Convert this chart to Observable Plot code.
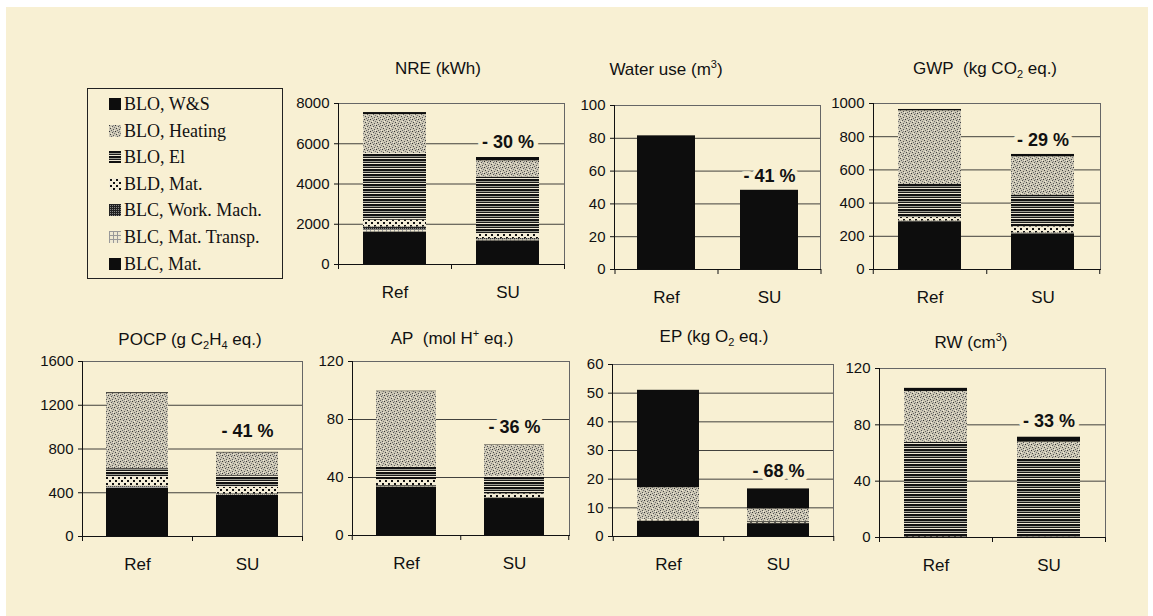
<!DOCTYPE html>
<html><head><meta charset="utf-8">
<script src="https://cdn.jsdelivr.net/npm/d3@7"></script>
<script src="https://cdn.jsdelivr.net/npm/@observablehq/plot@0.6"></script>
<style>
body{margin:0;background:#fff;}
#page{position:relative;width:1153px;height:616px;overflow:hidden;background:#fff;font-family:"Liberation Sans",Arial,sans-serif;color:#111;}
#bg{position:absolute;left:6px;top:7px;width:1142px;height:609px;background:#f8f0d3;}
.panel{position:absolute;}
.title{position:absolute;transform:translate(-50%,-50%);font-size:17px;white-space:nowrap;color:#111;line-height:20px;}
.title sub,.title sup{font-size:11px;line-height:0;}
#legend{position:absolute;left:87px;top:88px;width:196px;height:191px;border:1px solid #222;box-sizing:border-box;font-family:"Liberation Serif","Times New Roman",serif;font-size:18px;color:#111;}
.lg{position:absolute;left:21px;height:20px;line-height:20px;white-space:nowrap;display:flex;align-items:center;}
.lg svg{margin-right:3px;}
</style></head>
<body>
<svg width="0" height="0" style="position:absolute">
<defs>
<pattern id="pHeat" width="6" height="6" patternUnits="userSpaceOnUse">
<rect width="6" height="6" fill="#cbc6b4"/>
<rect x="0" y="0" width="1" height="1" fill="#333"/>
<rect x="3" y="1" width="1" height="1" fill="#555"/>
<rect x="1" y="3" width="1" height="1" fill="#444"/>
<rect x="4" y="4" width="1" height="1" fill="#555"/>
<rect x="5" y="2" width="1" height="1" fill="#777"/>
<rect x="2" y="5" width="1" height="1" fill="#666"/>
<rect x="4" y="0" width="1" height="1" fill="#888"/>
<rect x="2" y="2" width="1" height="1" fill="#f2ecd8"/>
<rect x="5" y="5" width="1" height="1" fill="#f2ecd8"/>
</pattern>
<pattern id="pEl" width="4" height="5" patternUnits="userSpaceOnUse">
<rect width="4" height="2" fill="#111"/>
<rect y="2" width="4" height="1" fill="#9a9a90"/>
<rect y="3" width="4" height="1" fill="#1a1a1a"/>
<rect y="4" width="4" height="1" fill="#eee8d5"/>
</pattern>
<pattern id="pBLD" width="6" height="6" patternUnits="userSpaceOnUse">
<rect width="6" height="6" fill="#f3ecd6"/>
<rect x="1" y="1" width="2" height="2" fill="#111"/>
<rect x="4" y="4" width="2" height="2" fill="#111"/>
</pattern>
<pattern id="pWork" width="2" height="2" patternUnits="userSpaceOnUse">
<rect width="2" height="2" fill="#222"/>
<rect x="1" y="1" width="1" height="1" fill="#888"/>
</pattern>
<pattern id="pTransp" width="4" height="4" patternUnits="userSpaceOnUse">
<rect width="4" height="4" fill="#eee8d2"/>
<rect width="1" height="4" fill="#999"/>
<rect width="4" height="1" fill="#999"/>
</pattern>
</defs>
</svg>
<div id="page"><div id="bg"></div><div id="legend"></div></div>
<script>
// ---- data ----
const scenarios = ["Ref", "SU"];
// stack order, bottom to top
const components = ["BLC, Mat.", "BLC, Mat. Transp.", "BLC, Work. Mach.", "BLD, Mat.", "BLO, El", "BLO, Heating", "BLO, W&S"];
const nreRef   = [1620, 100, 150, 330, 3315, 1935, 100];
const nreSU    = [1180, 50, 60, 250, 2815, 795, 166];
const waterRef = [0, 0, 0, 0, 0, 0, 81.5];
const waterSU  = [0, 0, 0, 0, 0, 0, 48.3];
const gwpRef   = [288, 2, 3, 20, 199, 444, 8];
const gwpSU    = [215, 3, 3, 36, 191, 231, 14];
const pocpRef  = [440, 10, 10, 80, 80, 687, 7];
const pocpSU   = [375, 5, 10, 60, 106, 208, 5];
const apRef    = [33.5, 0.5, 0.5, 4, 8.7, 52, 0.3];
const apSU     = [25.5, 0.3, 0.3, 2.6, 12, 21.4, 0.3];
const epRef    = [5.3, 0.1, 0.1, 0.3, 0.2, 11, 34];
const epSU     = [4.5, 0.1, 0.1, 0.3, 0.3, 4.3, 7];
const rwRef    = [0.5, 0, 0, 0.2, 67, 36, 2.2];
const rwSU     = [0.4, 0, 0, 0.1, 55.4, 11.8, 3.5];
const nreTicks = [0, 2000, 4000, 6000, 8000];
const waterTicks = [0, 20, 40, 60, 80, 100];
const gwpTicks = [0, 200, 400, 600, 800, 1000];
const pocpTicks = [0, 400, 800, 1200, 1600];
const apTicks = [0, 40, 80, 120];
const epTicks = [0, 10, 20, 30, 40, 50, 60];
const rwTicks = [0, 40, 80, 120];
const reductions = ["- 30 %", "- 41 %", "- 29 %", "- 41 %", "- 36 %", "- 68 %", "- 33 %"];

// ---- styles ----
const BG = "#f8f0d3";
const fills = {
  "BLC, Mat.": "#0d0d0d",
  "BLC, Mat. Transp.": "url(#pTransp)",
  "BLC, Work. Mach.": "url(#pWork)",
  "BLD, Mat.": "url(#pBLD)",
  "BLO, El": "url(#pEl)",
  "BLO, Heating": "url(#pHeat)",
  "BLO, W&S": "#0d0d0d"
};

const page = document.getElementById("page");

// legend
const legend = document.getElementById("legend");
components.slice().reverse().forEach((c, i) => {
  const d = document.createElement("div");
  d.className = "lg";
  d.style.top = (5 + i * 26.6) + "px";
  d.innerHTML = `<svg width="12" height="12"><rect width="12" height="12" fill="${fills[c]}"/></svg><span></span>`;
  d.querySelector("span").textContent = c;
  legend.appendChild(d);
});

const panels = [
  {title: "NRE (kWh)", tx: 438, ty: 69, L: 338, T: 103, R: 564, B: 264, max: 8000, ticks: nreTicks, values: [nreRef, nreSU], pct: reductions[0], dy: -15},
  {title: "Water use (m<sup>3</sup>)", tx: 666, ty: 70, L: 614, T: 105, R: 820, B: 269, max: 100, ticks: waterTicks, values: [waterRef, waterSU], pct: reductions[1], dy: -14},
  {title: "GWP&nbsp; (kg CO<sub>2</sub> eq.)", tx: 985, ty: 69, L: 873, T: 103, R: 1100, B: 269, max: 1000, ticks: gwpTicks, values: [gwpRef, gwpSU], pct: reductions[2], dy: -14},
  {title: "POCP (g C<sub>2</sub>H<sub>4</sub> eq.)", tx: 190, ty: 340, L: 82, T: 361, R: 302, B: 536, max: 1600, ticks: pocpTicks, values: [pocpRef, pocpSU], pct: reductions[3], dy: -21},
  {title: "AP&nbsp; (mol H<sup>+</sup> eq.)", tx: 452, ty: 339, L: 352, T: 361, R: 569, B: 535, max: 120, ticks: apTicks, values: [apRef, apSU], pct: reductions[4], dy: -18},
  {title: "EP (kg O<sub>2</sub> eq.)", tx: 714, ty: 337, L: 612, T: 364, R: 833, B: 536, max: 60, ticks: epTicks, values: [epRef, epSU], pct: reductions[5], dy: -18},
  {title: "RW (cm<sup>3</sup>)", tx: 971, ty: 343, L: 879, T: 368, R: 1105, B: 537, max: 120, ticks: rwTicks, values: [rwRef, rwSU], pct: reductions[6], dy: -16}
];

const m = {l: 64, r: 14, t: 14, b: 48};
panels.forEach(cfg => {
  const W = cfg.R - cfg.L, H = cfg.B - cfg.T;
  const rows = [];
  scenarios.forEach((s, i) => components.forEach((c, j) => rows.push({scenario: s, component: c, value: cfg.values[i][j]})));
  const total = d3.sum(cfg.values[1]);
  const chart = Plot.plot({
    width: W + m.l + m.r, height: H + m.t + m.b,
    marginLeft: m.l, marginRight: m.r, marginTop: m.t, marginBottom: m.b,
    style: {background: "transparent", fontFamily: "'Liberation Sans', Arial, sans-serif", color: "#111", overflow: "visible"},
    x: {domain: scenarios, paddingInner: 0.44, paddingOuter: 0.22, label: null},
    y: {domain: [0, cfg.max], label: null},
    marks: [
      Plot.gridY(cfg.ticks, {stroke: "#222", strokeOpacity: 0.85}),
      Plot.barY(rows, Plot.stackY({x: "scenario", y: "value", fill: d => fills[d.component]})),
      Plot.frame({stroke: "#666"}),
      Plot.frame({anchor: "left", stroke: "#111"}),
      Plot.frame({anchor: "bottom", stroke: "#111"}),
      Plot.axisY(cfg.ticks, {tickSize: 4, tickPadding: 5, fontSize: 15, tickFormat: d3.format("d"), label: null}),
      Plot.axisX({ticks: scenarios, tickSize: 0, tickPadding: 21, fontSize: 17, label: null}),
      Plot.axisX({ticks: scenarios, tickSize: 5, dx: W / 4, text: null, label: null}),
      Plot.axisX({ticks: ["Ref"], tickSize: 5, dx: -W / 4, text: null, label: null}),
      Plot.text([cfg.pct], {x: () => "SU", y: () => total, dy: cfg.dy, text: d => d, fontSize: 18, fontWeight: "bold", fill: "#111", stroke: BG, strokeWidth: 9, paintOrder: "stroke"})
    ]
  });
  const div = document.createElement("div");
  div.className = "panel";
  div.style.left = (cfg.L - m.l) + "px";
  div.style.top = (cfg.T - m.t) + "px";
  div.appendChild(chart);
  page.appendChild(div);
  const t = document.createElement("div");
  t.className = "title";
  t.style.left = cfg.tx + "px";
  t.style.top = cfg.ty + "px";
  t.innerHTML = cfg.title;
  page.appendChild(t);
});
</script>
</body></html>
